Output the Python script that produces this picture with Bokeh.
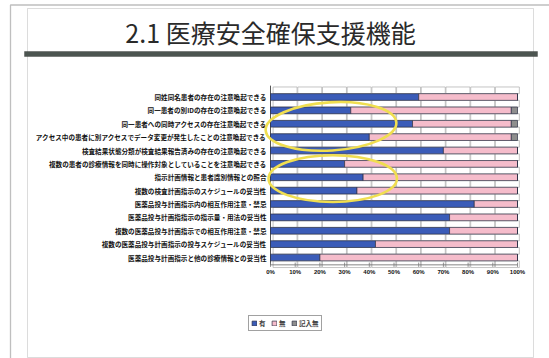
from bokeh.plotting import figure
from bokeh.models import (Range1d, ColumnDataSource, BoxAnnotation, Label,
                          Legend, LegendItem)
from bokeh.core.properties import value
from bokeh.embed import file_html
from bokeh.resources import INLINE

W, H = 549, 358
JP = "Noto Sans CJK JP"

# --- chart data -------------------------------------------------------------
categories = [
    "同姓同名患者の存在の注意喚起できる",
    "同一患者の別IDの存在の注意喚起できる",
    "同一患者への同時アクセスの存在注意喚起できる",
    "アクセス中の患者に別アクセスでデータ変更が発生したことの注意喚起できる",
    "検査結果状態分類が検査結果報告済みの存在の注意喚起できる",
    "複数の患者の診療情報を同時に操作対象としていることを注意喚起できる",
    "指示計画情報と患者識別情報との照合",
    "複数の検査計画指示のスケジュールの妥当性",
    "医薬品投与計画指示内の相互作用注意・禁忌",
    "医薬品投与計画指指示の指示量・用法の妥当性",
    "複数の医薬品投与計画指示での相互作用注意・禁忌",
    "複数の医薬品投与計画指示の投与スケジュールの妥当性",
    "医薬品投与計画指示と他の診療情報との妥当性",
]
yes_pct   = [60, 32.5, 57.5, 40, 70, 30, 37.5, 35, 82.5, 72.5, 72.5, 42.5, 20]
no_pct    = [40, 65, 40, 57.5, 30, 70, 62.5, 65, 17.5, 27.5, 27.5, 57.5, 80]
blank_pct = [0, 2.5, 2.5, 2.5, 0, 0, 0, 0, 0, 0, 0, 0, 0]
series_names = ["有", "無", "記入無"]
tick_values = [0, 10, 20, 30, 40, 50, 60, 70, 80, 90, 100]
tick_labels = ["0%", "10%", "20%", "30%", "40%", "50%",
               "60%", "70%", "80%", "90%", "100%"]
# highlighted groups: (centre row, row span, centre %, % span, tilt)
highlights = [(2.2, 3.6, 24.5, 53, 0.06), (6.1, 3.5, 25.2, 52, 0.0)]

rows = list(range(len(categories)))

# --- layout: the plot frame spans the whole page -----------------------------
PX0, PX100 = 270, 517          # pixel columns of 0% and 100%
ROW0, ROWSTEP = 96.5, 13.375   # pixel row of the first bar and bar pitch
kx = (PX100 - PX0) / 100.0
x_range = Range1d(-PX0 / kx, (W - PX0) / kx)
y_range = Range1d((H - ROW0) / ROWSTEP, -ROW0 / ROWSTEP)

p = figure(width=W, height=H, x_range=x_range, y_range=y_range,
           x_axis_type=None, y_axis_type=None, toolbar_location=None,
           output_backend="svg", min_border=0, outline_line_color=None,
           background_fill_color="white", border_fill_color="white")

# page frames and title bar
p.add_layout(BoxAnnotation(left=10, right=W + 20, top=H - 4.5, bottom=-20,
                           left_units="screen", right_units="screen",
                           top_units="screen", bottom_units="screen",
                           fill_color=None, line_color="#2b2b2b", line_width=1.3))
p.add_layout(BoxAnnotation(left=27, right=533, top=H - 8, bottom=H - 357,
                           left_units="screen", right_units="screen",
                           top_units="screen", bottom_units="screen",
                           fill_color=None, line_color="#8a8a8a", line_width=1))
p.add_layout(BoxAnnotation(left=24, right=537, top=H - 51, bottom=H - 56,
                           left_units="screen", right_units="screen",
                           top_units="screen", bottom_units="screen",
                           fill_color="#4c5550", fill_alpha=1,
                           line_color="#1e1e1e", line_width=1))
p.add_layout(Label(x=270, y=H - 31, x_units="screen", y_units="screen",
                   text="2.1 医療安全確保支援機能", text_align="center",
                   text_baseline="middle", text_font=JP, text_font_size="25px",
                   text_color="#2a2a2a"))

# back wall of the 3-D chart: white cells between the bars
cx, cy = [], []
for r in range(len(categories) + 1):
    for t in tick_values[:-1]:
        cx.append(t + 5.9)
        cy.append(r - 0.5)
p.rect(x=cx, y=cy, width=9.7, height=0.5, fill_color="white",
       line_color="#acacac", line_width=0.7)

# left wall edge and floor line with ticks
p.segment(x0=[0], y0=[-0.85], x1=[0], y1=[len(categories) - 0.45],
          line_color="#555555", line_width=1)
p.segment(x0=[0], y0=[len(categories) - 0.45], x1=[100], y1=[len(categories) - 0.45],
          line_color="#666666", line_width=0.8)
p.segment(x0=tick_values, y0=[len(categories) - 0.62] * len(tick_values),
          x1=tick_values, y1=[len(categories) - 0.3] * len(tick_values),
          line_color="#777777", line_width=0.8)

# stacked bars
src = ColumnDataSource(dict(row=rows, yes=yes_pct, no=no_pct, blank=blank_pct))
bars = p.hbar_stack(["yes", "no", "blank"], y="row", height=0.5, source=src,
                    color=["#3b5cb8", "#f5bccb", "#8e8e8e"],
                    line_color="#2b2f45", line_width=0.7)

# category labels and percentage tick labels
p.text(x=[-1.6] * len(rows), y=rows, text=categories, text_align="right",
       text_baseline="middle", text_font=value(JP), text_font_size="6.6px",
       text_font_style="bold", text_color="#111111")
p.text(x=tick_values, y=[len(categories) + 0.1] * len(tick_values),
       text=tick_labels, text_align="center", text_baseline="middle",
       text_font=value("Liberation Sans"), text_font_size="6px",
       text_font_style="bold", text_color="#111111")

# hand-drawn highlight ovals
p.ellipse(x=[h[2] for h in highlights], y=[h[0] for h in highlights],
          width=[h[3] for h in highlights], height=[h[1] for h in highlights],
          angle=[h[4] for h in highlights], fill_color=None,
          line_color="#f0de50", line_width=2.6)

legend = Legend(items=[LegendItem(label=n, renderers=[r])
                       for n, r in zip(series_names, bars)],
                location=(248, H - 331), orientation="horizontal",
                label_text_font=JP, label_text_font_size="6.5px",
                label_text_font_style="bold", label_height=7, label_width=8,
                glyph_width=6, glyph_height=6, label_standoff=2, spacing=4,
                padding=2, margin=0, border_line_color="#444444",
                border_line_width=1, background_fill_color="white")
p.add_layout(legend)

open("out.html", "w").write(file_html(p, INLINE))
